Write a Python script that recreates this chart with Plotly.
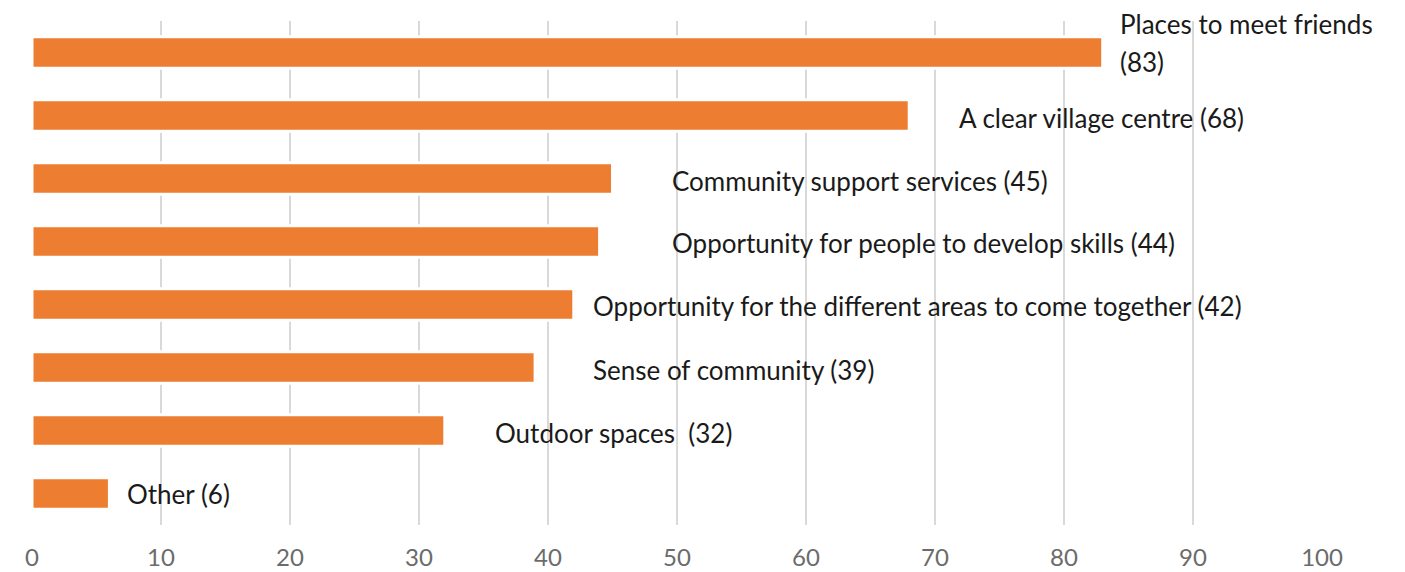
import plotly.graph_objects as go

# Survey responses: what would improve the village
categories = [
    "Places to meet friends",
    "A clear village centre",
    "Community support services",
    "Opportunity for people to develop skills",
    "Opportunity for the different areas to come together",
    "Sense of community",
    "Outdoor spaces",
    "Other",
]
counts = [83, 68, 45, 44, 42, 39, 32, 6]

x_ticks = [0, 10, 20, 30, 40, 50, 60, 70, 80, 90, 100]

# Where each data label starts (in axis units) and its vertical nudge in px
label_x = [84.2, 71.7, 49.45, 49.45, 43.37, 43.37, 35.7, 7.2]
label_yshift = [0, -2, -2, -1, -1, -2, -2, 0]

BAR_COLOR = "#ED7D31"
FONT = "Lato"
LABEL_FONT = dict(family=FONT, size=26, color="#1a1a1a")

fig = go.Figure(
    go.Bar(
        x=counts,
        y=categories,
        orientation="h",
        marker=dict(color=BAR_COLOR, line=dict(color="white", width=3)),
        hoverinfo="x+y",
    )
)

for cat, val, lx, dy in zip(categories, counts, label_x, label_yshift):
    if cat == "Places to meet friends":
        # this label wraps onto two lines above/around its bar
        fig.add_annotation(x=lx, y=cat, text=cat, showarrow=False,
                           xanchor="left", yanchor="middle", yshift=29,
                           font=LABEL_FONT)
        fig.add_annotation(x=lx, y=cat, text=f"({val})", showarrow=False,
                           xanchor="left", yanchor="middle", yshift=-9,
                           font=LABEL_FONT)
        continue
    if cat == "Outdoor spaces":
        text = f"{cat}\u00a0 ({val})"
    else:
        text = f"{cat} ({val})"
    fig.add_annotation(
        x=lx,
        y=cat,
        text=text,
        showarrow=False,
        xanchor="left",
        yanchor="middle",
        align="left",
        yshift=dy,
        font=LABEL_FONT,
    )

fig.update_layout(
    width=1405,
    height=572,
    margin=dict(l=32, r=83, t=21, b=47),
    paper_bgcolor="white",
    plot_bgcolor="white",
    showlegend=False,
    bargap=0.5,
    font=dict(family=FONT),
)

fig.update_xaxes(
    range=[0, 100],
    tickvals=x_ticks,
    showgrid=True,
    gridcolor="#d9d9d9",
    gridwidth=2,
    zeroline=False,
    showline=False,
    ticks="",
    ticklabelstandoff=16,
    tickfont=dict(family=FONT, size=24, color="#6b6b6b"),
    automargin=False,
    fixedrange=True,
)
fig.update_yaxes(
    autorange="reversed",
    showticklabels=False,
    showgrid=False,
    zeroline=False,
    showline=False,
    ticks="",
    automargin=False,
    fixedrange=True,
)

fig.write_html("out.html")
